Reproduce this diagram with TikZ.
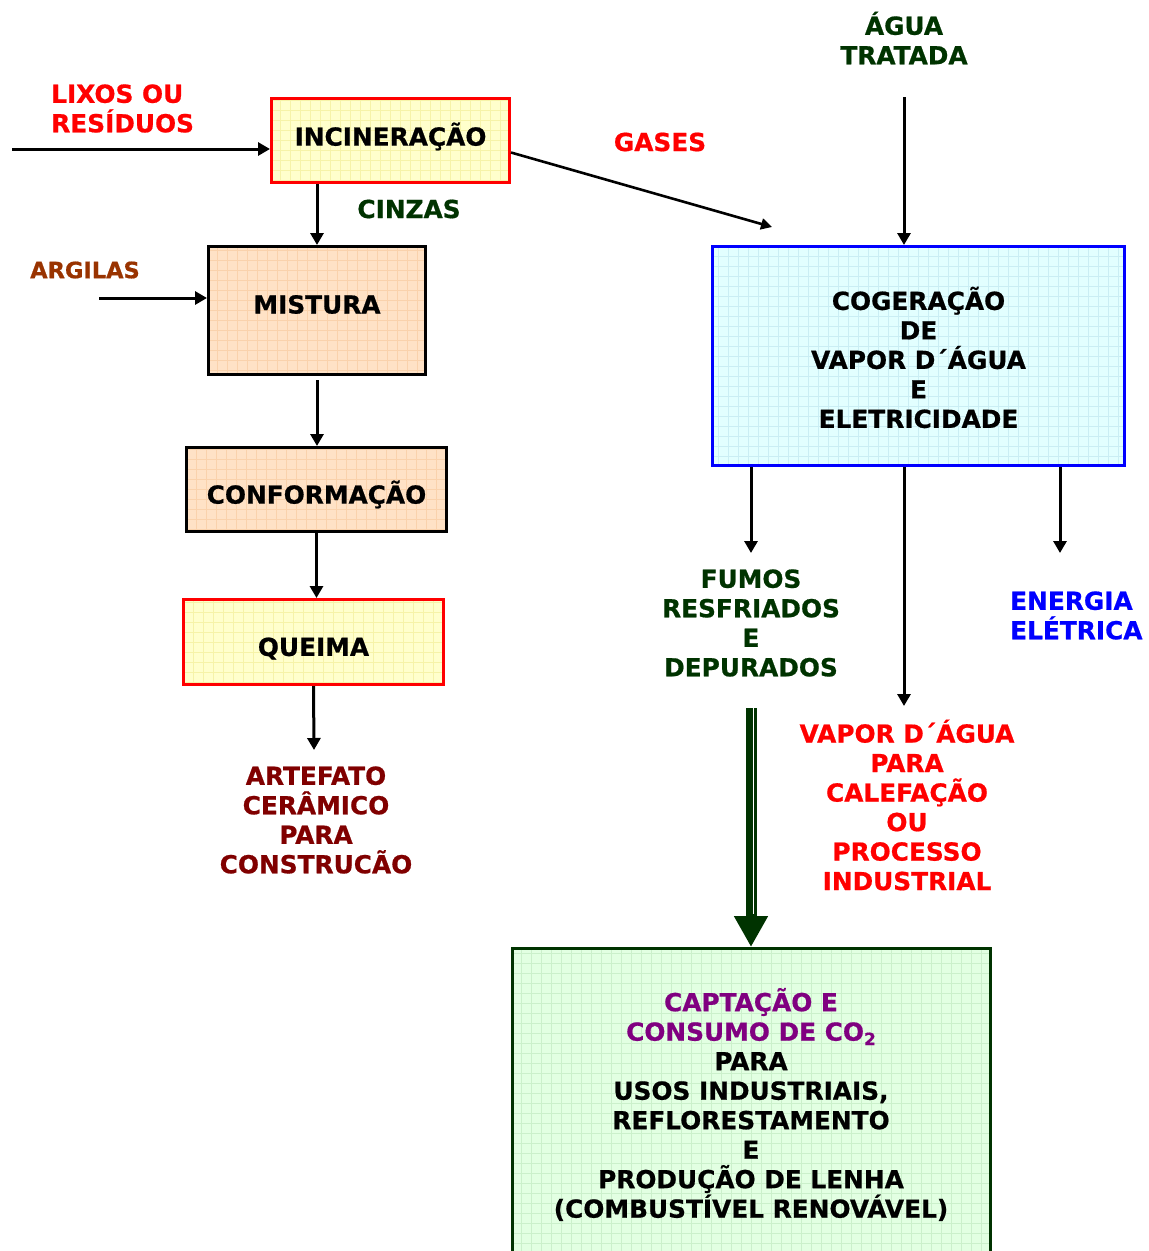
\documentclass[tikz,border=0pt]{standalone}
\usepackage{fontspec}
\setmainfont{DejaVu Sans}[BoldFeatures={FakeBold=0.7}]
\usetikzlibrary{arrows.meta}
\definecolor{myred}{HTML}{FF0000}
\definecolor{dkgreen}{HTML}{003300}
\definecolor{brownish}{HTML}{993300}
\definecolor{dkred}{HTML}{800000}
\definecolor{myblue}{HTML}{0000FF}
\definecolor{mypurple}{HTML}{800080}
\definecolor{yelfill}{HTML}{FFFFCC}
\definecolor{yelgrid}{HTML}{F6F3A8}
\definecolor{pchfill}{HTML}{FFE2C6}
\definecolor{pchgrid}{HTML}{FAD2AC}
\definecolor{cyfill}{HTML}{E2FFFF}
\definecolor{cygrid}{HTML}{CAEEF4}
\definecolor{grfill}{HTML}{E2FFE2}
\definecolor{grgrid}{HTML}{CBF0CB}
\begin{document}
\begin{tikzpicture}[x=1pt,y=-1pt,
  txt/.style={font=\bfseries\fontsize{24.8}{29.5}\selectfont, align=center, inner sep=0pt},
  box/.style n args={3}{draw=#1, fill=#2, line width=3pt, inner sep=0pt,
    path picture={\draw[#3, line width=0.5pt, step=10pt]
      (path picture bounding box.south west) grid (path picture bounding box.north east);}},
  arr/.style={line width=3pt, -{Triangle[length=12pt,width=13pt]}}
]
\useasboundingbox (0,0) rectangle (1149,1251);

% boxes
\node[box={myred}{yelfill}{yelgrid}, minimum width=238pt, minimum height=84pt] (incin) at (390.5,140.5) {};
\node[txt] (incinT) at (390.5,136.5) {INCINERAÇÃO};
\node[box={black}{pchfill}{pchgrid}, minimum width=217pt, minimum height=128pt] (mist) at (317,310.5) {};
\node[txt] (mistT) at (317,304.5) {MISTURA};
\node[box={black}{pchfill}{pchgrid}, minimum width=260pt, minimum height=84pt] (conf) at (316.5,489.5) {};
\node[txt] (confT) at (316.5,494.5) {CONFORMAÇÃO};
\node[box={myred}{yelfill}{yelgrid}, minimum width=260pt, minimum height=85pt] (queima) at (313.5,642) {};
\node[txt] (queimaT) at (313.5,648.5) {QUEIMA};
\node[box={myblue}{cyfill}{cygrid}, minimum width=412pt, minimum height=219pt] (cog) at (918.5,356) {};
\node[txt] (cogT) at (918.5,357.5) {COGERAÇÃO\\DE\\VAPOR D´ÁGUA\\E\\ELETRICIDADE};
\node[box={dkgreen}{grfill}{grgrid}, minimum width=478pt, minimum height=310pt] (co2box) at (751.5,1103.5) {};
\node[txt] (co2text) at (751,1104.5)
  {\color{mypurple}CAPTAÇÃO E\\\color{mypurple}CONSUMO DE CO\raisebox{-0.18em}{\fontsize{17}{17}\selectfont 2}\\PARA\\USOS INDUSTRIAIS,\\REFLORESTAMENTO\\E\\PRODUÇÃO DE LENHA\\(COMBUSTÍVEL RENOVÁVEL)};

% labels
\node[txt, text=myred, align=left, anchor=west] (lixos) at (51,108.5) {LIXOS OU\\RESÍDUOS};
\node[txt, text=myred] (gases) at (660,142) {GASES};
\node[txt, text=dkgreen] (cinzas) at (409,209) {CINZAS};
\node[txt, text=brownish, font=\bfseries\fontsize{22.5}{26}\selectfont] (argilas) at (85,270) {ARGILAS};
\node[txt, text=dkred] (artef) at (316,820) {ARTEFATO\\CERÂMICO\\PARA\\CONSTRUCÃO};
\node[txt, text=dkgreen] (agua) at (904,38) {ÁGUA\\TRATADA};
\node[txt, text=dkgreen] (fumos) at (751,623) {FUMOS\\RESFRIADOS\\E\\DEPURADOS};
\node[txt, text=myblue, align=left, anchor=west] (energia) at (1010,615.5) {ENERGIA\\ELÉTRICA};
\node[txt, text=myred] (vapor) at (907,805) {VAPOR D´ÁGUA\\PARA\\CALEFAÇÃO\\OU\\PROCESSO\\INDUSTRIAL};

% free ends
\coordinate (lixosStart) at (12,149);
\coordinate (argStart) at (99,298);
\coordinate (gasEnd) at (772,227);
\coordinate (aguaStart) at (904,97);
\coordinate (artTop) at (314,750);
\coordinate (fumTop) at (751,553);
\coordinate (vapTop) at (904,706);
\coordinate (eneTop) at (1060,553);
\coordinate (dblStart) at (751,708);

% connectors
\draw[arr] (lixosStart) -- (lixosStart -| incin.west);
\draw[line width=2.6pt, -{Triangle[length=11pt,width=11pt]}] ([yshift=-12pt]incin.east) -- (gasEnd);
\draw[arr] (incin.south -| mist.north) -- (mist.north);
\draw[arr] (argStart) -- (argStart -| mist.west);
\draw[arr, shorten <=4pt] (mist.south) -- (mist.south |- conf.north);
\draw[arr] (conf.south) -- (conf.south |- queima.north);
\draw[arr] (queima.south) -- (artTop);
\draw[arr] (aguaStart) -- (aguaStart |- cog.north);
\draw[arr] (cog.south -| fumTop) -- (fumTop);
\draw[arr] (cog.south -| vapTop) -- (vapTop);
\draw[arr] (cog.south -| eneTop) -- (eneTop);

% double arrow
\draw[dkgreen, line width=11pt, -{Triangle[length=31pt,width=32pt]}] (dblStart) -- (dblStart |- co2box.north);
\draw[white, line width=1.3pt] ([xshift=2.3pt]dblStart) -- ++(0,206);
\end{tikzpicture}
\end{document}
